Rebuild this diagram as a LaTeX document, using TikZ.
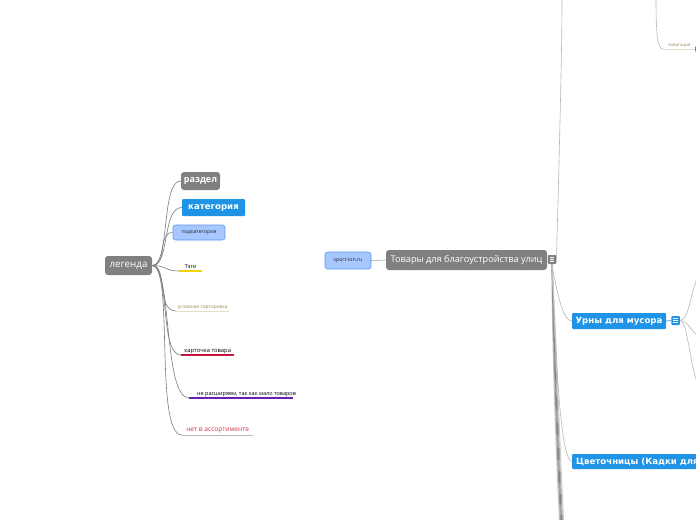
\documentclass[tikz,border=0pt]{standalone}
\usepackage{fontspec}
\setmainfont{Open Sans}
\newfontfamily\dv{DejaVu Sans}
\definecolor{nodegray}{HTML}{808080}
\definecolor{topicblue}{HTML}{1F93E6}
\definecolor{lightblue}{HTML}{A6C8FF}
\definecolor{lightborder}{HTML}{5E96F0}
\definecolor{tagyellow}{HTML}{F2D600}
\definecolor{tanline}{HTML}{E8DCC0}
\definecolor{tantext}{HTML}{A08A55}
\definecolor{crimson}{HTML}{C8143C}
\definecolor{purpleline}{HTML}{6A1FB0}
\definecolor{redtext}{HTML}{D8304A}
\definecolor{linegray}{HTML}{7A7A7A}
\definecolor{lightline}{HTML}{B8B8B8}
\tikzset{
  graybox/.style={fill=nodegray, rounded corners=3pt, text=white, inner sep=0pt},
  bluebox/.style={fill=topicblue, rounded corners=1pt, text=white, inner sep=0pt, font=\dv\bfseries\fontsize{8.6}{10}\selectfont},
  lightbox/.style={fill=lightblue, draw=lightborder, line width=0.6pt, rounded corners=2.5pt, text=black!85, inner sep=0pt, font=\fontsize{5.2}{6}\selectfont},
  ultopic/.style={anchor=south west, inner xsep=0pt, inner ysep=2pt, text depth=0pt},
  leglink/.style={draw=linegray, line width=0.6pt},
  lightlink/.style={draw=lightline, line width=0.6pt},
  bundle/.style={draw=nodegray!80, line width=1pt},
  icon/.style={rounded corners=1pt, inner sep=0pt, minimum width=8.5pt, minimum height=9pt}
}
\newcommand{\iconlines}[1]{%
  \draw[white, line width=0.6pt] ($(#1.center)+(-2.3,-2)$) -- ++(4.6,0);
  \draw[white, line width=0.6pt] ($(#1.center)+(-2.3,0)$) -- ++(4.6,0);
  \draw[white, line width=0.6pt] ($(#1.center)+(-2.3,2)$) -- ++(4.6,0);}
\usetikzlibrary{calc}
\begin{document}
\begin{tikzpicture}[x=1pt,y=-1pt]
\useasboundingbox (0,0) rectangle (696,520);
\clip (0,0) rectangle (696,520);
\fill[white] (0,0) rectangle (696,520);

\coordinate (topend) at (562,0);
\coordinate (navtop) at (656,0);
\coordinate (b1) at (559.5,520);
\coordinate (b2) at (560.5,520);
\coordinate (b3) at (561.5,520);
\coordinate (b4) at (562.5,520);
\coordinate (b5) at (563.5,520);
\coordinate (u1) at (700,272);
\coordinate (u2) at (700,338);
\coordinate (u3) at (700,390);

% ---- legend ----
\node[graybox, minimum width=47pt, minimum height=19pt, font=\fontsize{9.8}{11}\selectfont] (leg) at (128.5,265.5) {легенда};
\node[graybox, minimum width=39pt, minimum height=18pt, font=\bfseries\fontsize{9}{11}\selectfont] (razdel) at (200.5,181) {раздел};
\node[bluebox, minimum width=63pt, minimum height=17pt] (kateg) at (213.5,207.5) {категория};
\node[lightbox, minimum width=52pt, minimum height=15pt] (podkat) at (199,232.5) {подкатегория};
\node[ultopic, minimum width=23pt, font=\fontsize{5.5}{6}\selectfont] (tegi) at (179,271) {Тэги};
\draw[tagyellow, line width=1.2pt] (tegi.south west) -- (tegi.south east);
\node[ultopic, minimum width=53pt, text=tantext, font=\fontsize{4.8}{5}\selectfont] (usl) at (176,311) {условная сортировка};
\draw[tanline, line width=1pt] (usl.south west) -- (usl.south east);
\node[ultopic, minimum width=53pt, font=\fontsize{5.8}{6}\selectfont] (kart) at (181,355) {карточка товара};
\draw[crimson, line width=1.2pt] (kart.south west) -- (kart.south east);
\node[ultopic, minimum width=104pt, font=\fontsize{5.5}{6}\selectfont] (nerasch) at (189,398) {\hspace*{8pt}не расширяем, так как мало товаров};
\draw[purpleline, line width=1.2pt] (nerasch.south west) -- ($(nerasch.south west)+(104,0)$);
\node[ultopic, minimum width=71pt, text=redtext, font=\fontsize{6.6}{7}\selectfont, inner ysep=3.5pt] (net) at (182,435) {нет в ассортименте};
\draw[lightline, line width=0.8pt] (net.south west) -- (net.south east);

\draw[leglink] (leg.east) .. controls +(18,0) and +(-20,0) .. (razdel.west);
\draw[leglink] (leg.east) .. controls +(18,0) and +(-20,0) .. (kateg.west);
\draw[leglink] (leg.east) .. controls +(16,0) and +(-16,0) .. (podkat.west);
\draw[leglink] (leg.east) .. controls +(14,0) and +(-14,0) .. (tegi.south west);
\draw[leglink] (leg.east) .. controls +(16,0) and +(-20,0) .. (usl.south west);
\draw[leglink] (leg.east) .. controls +(18,0) and +(-22,0) .. (kart.south west);
\draw[leglink] (leg.east) .. controls +(20,0) and +(-26,0) .. (nerasch.south west);
\draw[leglink] (leg.east) .. controls +(22,0) and +(-28,0) .. (net.south west);

% ---- main part ----
\node[lightbox, minimum width=46pt, minimum height=17pt] (sport) at (348,260.5) {sport-lon.ru};
\node[graybox, minimum width=161pt, minimum height=20pt, font=\fontsize{9.2}{10}\selectfont] (main) at (466.5,260) {Товары для благоустройства улиц};
\node[icon, fill=nodegray] (mainicon) at (552,259.5) {};
\iconlines{mainicon}
\draw[leglink, draw=nodegray!70] (sport.east) -- (main.west);

\draw[lightlink] (mainicon.east) .. controls (558,200) and (562,60) .. (topend);
\draw[bundle, draw=nodegray!45] (mainicon.south) .. controls (552,330) and (555,430) .. (b1);
\draw[bundle] (mainicon.south) .. controls (553,330) and (556,430) .. (b2);
\draw[bundle, draw=nodegray] (mainicon.south) .. controls (554,330) and (557,430) .. (b3);
\draw[bundle, draw=nodegray!70] (mainicon.south) .. controls (555,330) and (558,430) .. (b4);
\draw[bundle, draw=nodegray!40] (mainicon.south) .. controls (556,330) and (559,430) .. (b5);

\node[bluebox, minimum width=94pt, minimum height=16pt] (urny) at (619,321) {Урны для мусора};
\node[icon, fill=topicblue] (urnyicon) at (675.5,320.5) {};
\iconlines{urnyicon}
\draw[topicblue, line width=0.6pt] (urny.east) -- (urnyicon.west);
\node[bluebox, anchor=west, minimum height=15pt, inner xsep=4pt] (tsvet) at (572,461.5) {Цветочницы (Кадки для цветов)};

\draw[lightlink] (mainicon.south) .. controls (558,300) and (564,321) .. (urny.west);
\draw[lightlink] (mainicon.south) .. controls (557,400) and (563,461) .. (tsvet.west);

\draw[lightlink] (urnyicon.east) .. controls (690,320) and (690,290) .. (u1);
\draw[lightlink] (urnyicon.east) .. controls (688,321) and (690,330) .. (u2);
\draw[lightlink] (urnyicon.east) .. controls (688,321) and (690,370) .. (u3);

% ---- top right branch ----
\node[ultopic, minimum width=32pt, text=tantext, font=\fontsize{4.4}{5}\selectfont, inner ysep=2.5pt] (nav) at (663,49) {навигация};
\draw[tanline, line width=1pt] (nav.south west) -- (nav.south east);
\node[icon, fill=nodegray, minimum width=6pt, minimum height=6pt] (navicon) at (698,49) {};
\draw[lightlink] (navtop) .. controls (656,30) and (657,49) .. (nav.south west);
\end{tikzpicture}
\end{document}
